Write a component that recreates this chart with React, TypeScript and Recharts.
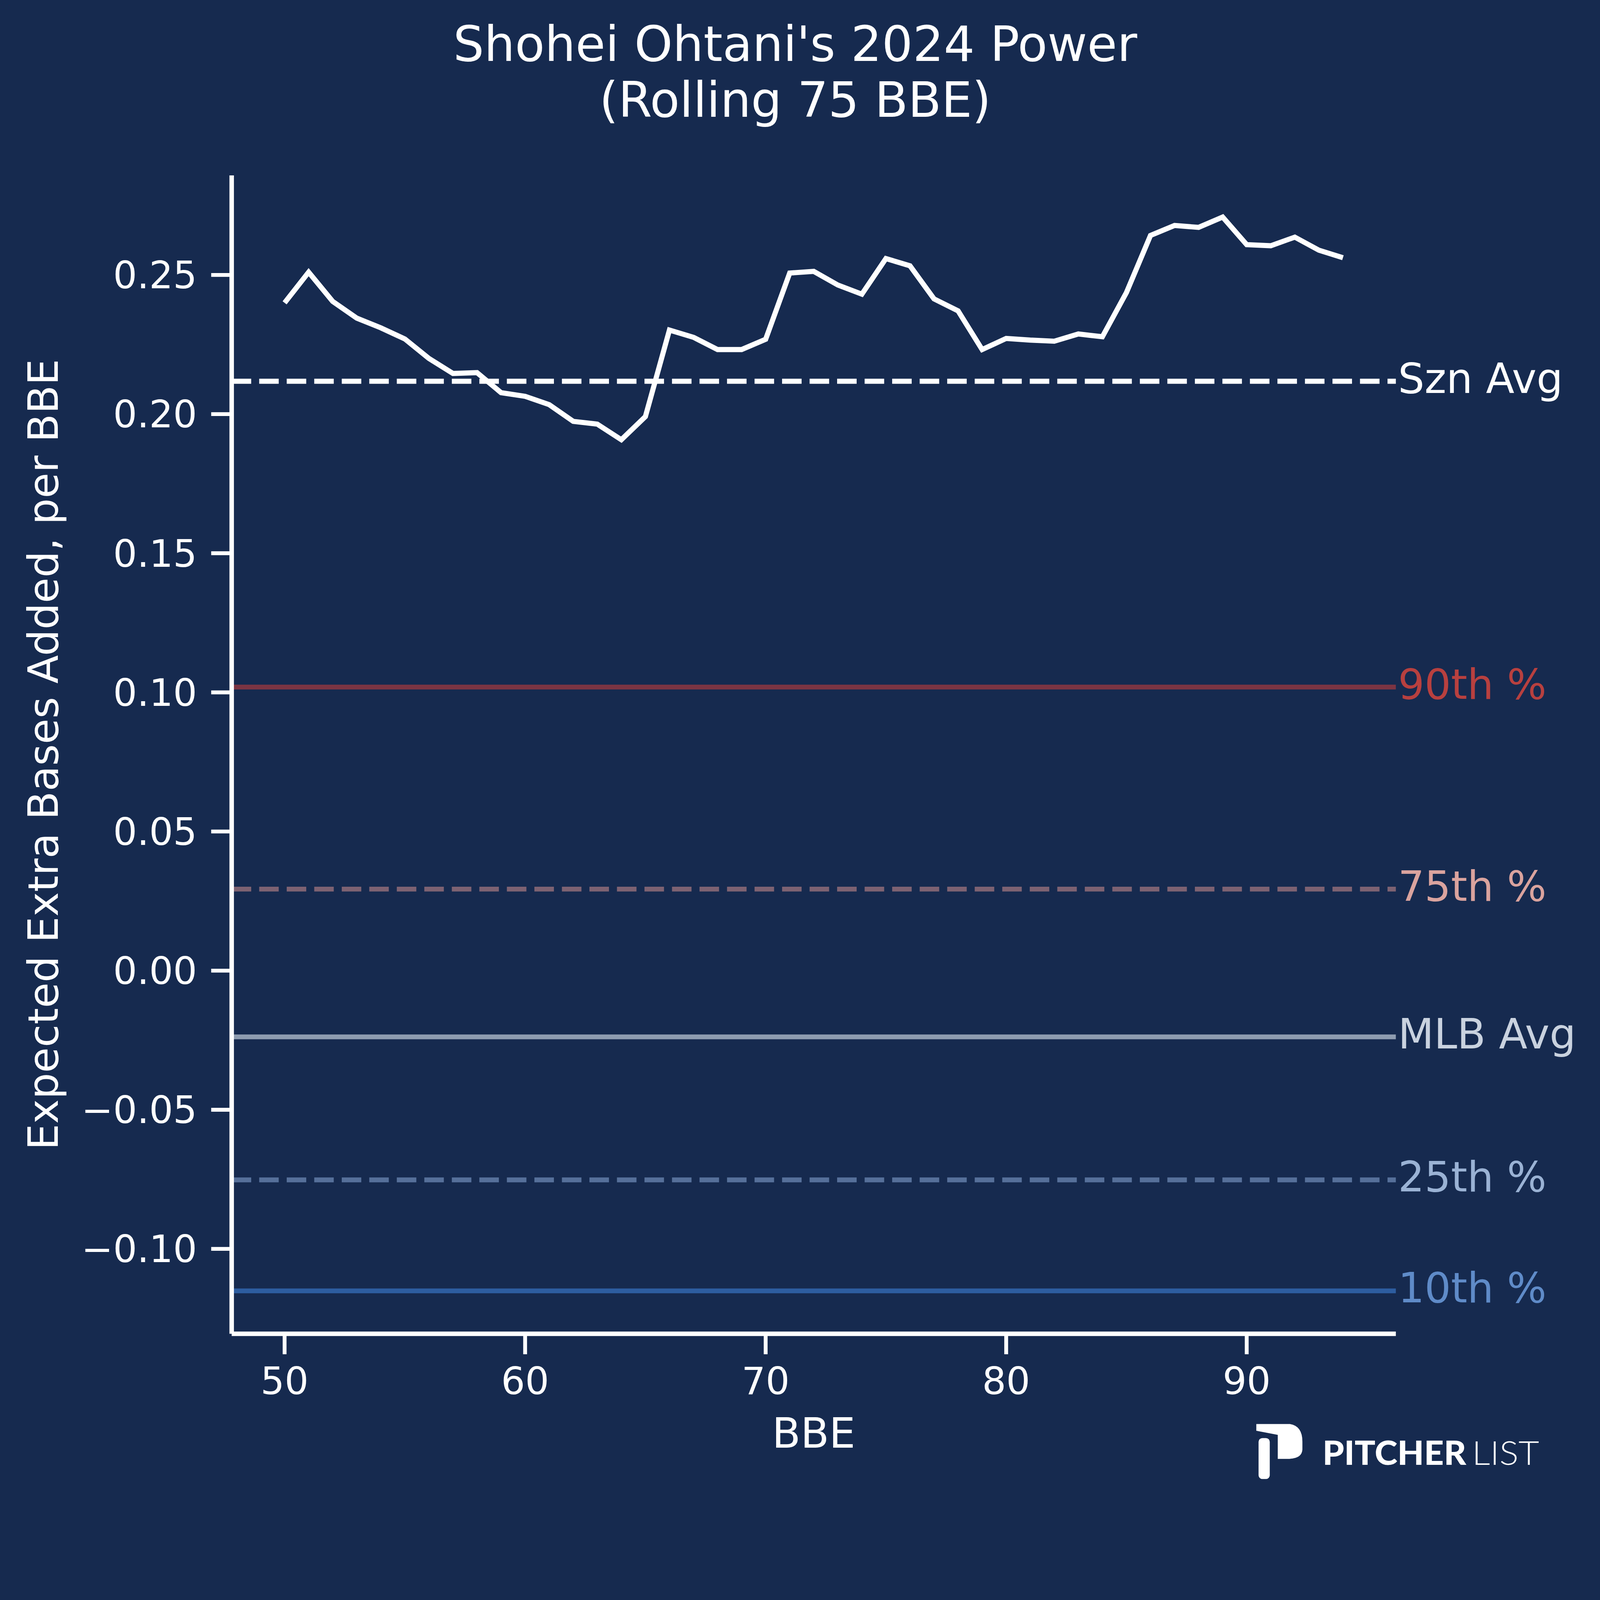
import { LineChart, Line, XAxis, YAxis, ReferenceLine } from "recharts";

const BG = "#162a4f";
const FONT = "DejaVu Sans, sans-serif";
const W = 5000;
const H = 4812;

// rolling 75 BBE window
const bbe = [
  50, 51, 52, 53, 54, 55, 56, 57, 58, 59, 60, 61, 62, 63, 64, 65, 66, 67, 68,
  69, 70, 71, 72, 73, 74, 75, 76, 77, 78, 79, 80, 81, 82, 83, 84, 85, 86, 87,
  88, 89, 90, 91, 92, 93, 94,
];
const xbaPerBbe = [
  0.24, 0.251, 0.2405, 0.2345, 0.231, 0.227, 0.22, 0.2146, 0.2149, 0.2077,
  0.2064, 0.2034, 0.1974, 0.1964, 0.1908, 0.1991, 0.2302, 0.2276, 0.2232,
  0.2232, 0.2269, 0.2507, 0.2513, 0.2464, 0.2431, 0.2559, 0.2533, 0.2414,
  0.2371, 0.2232, 0.2272, 0.2266, 0.2262, 0.2288, 0.2278, 0.2437, 0.2642,
  0.2678, 0.2671, 0.2708, 0.2609, 0.2605, 0.2636, 0.2589, 0.2562,
];

const xTicks = [50, 60, 70, 80, 90];
const yTicks = [-0.1, -0.05, 0, 0.05, 0.1, 0.15, 0.2, 0.25];

// benchmark lines
const refNames = ["Szn Avg", "90th %", "75th %", "MLB Avg", "25th %", "10th %"];
const refValues = [0.2118, 0.1019, 0.0293, -0.0238, -0.0752, -0.1151];
const refLineColors = ["#ffffff", "#7b3443", "#7d6272", "#8e9cb0", "#56709a", "#2d5da0"];
const refTextColors = ["#ffffff", "#b8403f", "#daa39e", "#c9d2df", "#9ab2d4", "#5f8bc8"];
const refDashed = [true, false, true, false, true, false];

const fmtTick = (v: number) => {
  const s = Math.abs(v).toFixed(2);
  return v < -1e-9 ? "\u2212" + s : s;
};

export default function App() {
  const data = bbe.map((x, i) => ({ bbe: x, value: xbaPerBbe[i] }));

  // fit the fixed-size figure into whatever viewport we actually get
  const vw = typeof window !== "undefined" ? window.innerWidth : W;
  const vh = typeof window !== "undefined" ? window.innerHeight : H;
  const s = Math.min(1, vw / W, vh / H);

  return (
    <div
      style={{
        position: "absolute",
        left: 0,
        top: 0,
        width: Math.max(vw, W * s),
        height: Math.max(vh, H * s),
        overflow: "hidden",
        background: BG,
      }}
    >
      <div
        style={{
          position: "absolute",
          left: 0,
          top: 0,
          width: W,
          height: H,
          background: BG,
          fontFamily: FONT,
          transform: `scale(${s})`,
          transformOrigin: "0 0",
        }}
      >
        <LineChart
          width={W}
          height={H}
          data={data}
          margin={{ top: 548, right: 638, bottom: 344, left: 324 }}
        >
          <XAxis
            type="number"
            dataKey="bbe"
            domain={[47.8, 96.2]}
            ticks={xTicks}
            interval={0}
            allowDataOverflow
            height={300}
            axisLine={{ stroke: "#ffffff", strokeWidth: 14 }}
            tickLine={{ stroke: "#ffffff", strokeWidth: 12 }}
            tickSize={64}
            tickMargin={41}
            tick={{ fill: "#ffffff", fontSize: 118, fontFamily: FONT }}
            label={{
              value: "BBE",
              position: "center",
              dy: 160,
              fill: "#ffffff",
              fontSize: 130,
              fontFamily: FONT,
            }}
          />
          <YAxis
            type="number"
            domain={[-0.1305, 0.2858]}
            ticks={yTicks}
            interval={0}
            allowDataOverflow
            width={400}
            axisLine={{ stroke: "#ffffff", strokeWidth: 14 }}
            tickLine={{ stroke: "#ffffff", strokeWidth: 12 }}
            tickSize={64}
            tickMargin={44}
            tickFormatter={fmtTick}
            tick={{ fill: "#ffffff", fontSize: 118, fontFamily: FONT }}
            label={{
              value: "Expected Extra Bases Added, per BBE",
              angle: -90,
              position: "center",
              dx: -390,
              fill: "#ffffff",
              fontSize: 130,
              fontFamily: FONT,
            }}
          />
          {refValues.map((v, i) => (
            <ReferenceLine
              key={refNames[i]}
              y={v}
              stroke={refLineColors[i]}
              strokeWidth={i === 0 ? 16 : 15}
              strokeDasharray={refDashed[i] ? "61 25" : undefined}
              ifOverflow="visible"
              label={{
                value: refNames[i],
                position: "right",
                offset: 7,
                dy: -10,
                fill: refTextColors[i],
                fontSize: 130,
                fontFamily: FONT,
              }}
            />
          ))}
          <Line
            type="linear"
            dataKey="value"
            stroke="#ffffff"
            strokeWidth={16}
            dot={false}
            activeDot={false}
            isAnimationActive={false}
          />
        </LineChart>

        <svg
          width={W}
          height={H}
          style={{ position: "absolute", left: 0, top: 0, pointerEvents: "none" }}
        >
          <text x={2485} y={190} textAnchor="middle" fill="#ffffff" fontSize={152} fontFamily={FONT}>
            Shohei Ohtani's 2024 Power
          </text>
          <text x={2485} y={365} textAnchor="middle" fill="#ffffff" fontSize={152} fontFamily={FONT}>
            (Rolling 75 BBE)
          </text>

          {/* Pitcher List logo */}
          <path
            d="M3926 4450 L4031 4450 Q4070 4456 4070 4505 L4070 4530 Q4068 4559 4024 4559 L3993 4559 L3993 4484 L3926 4471 Z"
            fill="#ffffff"
          />
          <rect x={3933} y={4494} width={35} height={128} rx={12} fill="#ffffff" />
          <text
            x={4133}
            y={4578}
            fill="#ffffff"
            fontSize={104}
            fontWeight={900}
            fontFamily="Lato, Open Sans, sans-serif"
            textLength={449}
            lengthAdjust="spacingAndGlyphs"
          >
            PITCHER
          </text>
          <text
            x={4600}
            y={4578}
            fill="#ffffff"
            fontSize={104}
            fontWeight={300}
            fontFamily="Lato, Open Sans, sans-serif"
            textLength={210}
            lengthAdjust="spacingAndGlyphs"
          >
            LIST
          </text>
        </svg>
      </div>
    </div>
  );
}
